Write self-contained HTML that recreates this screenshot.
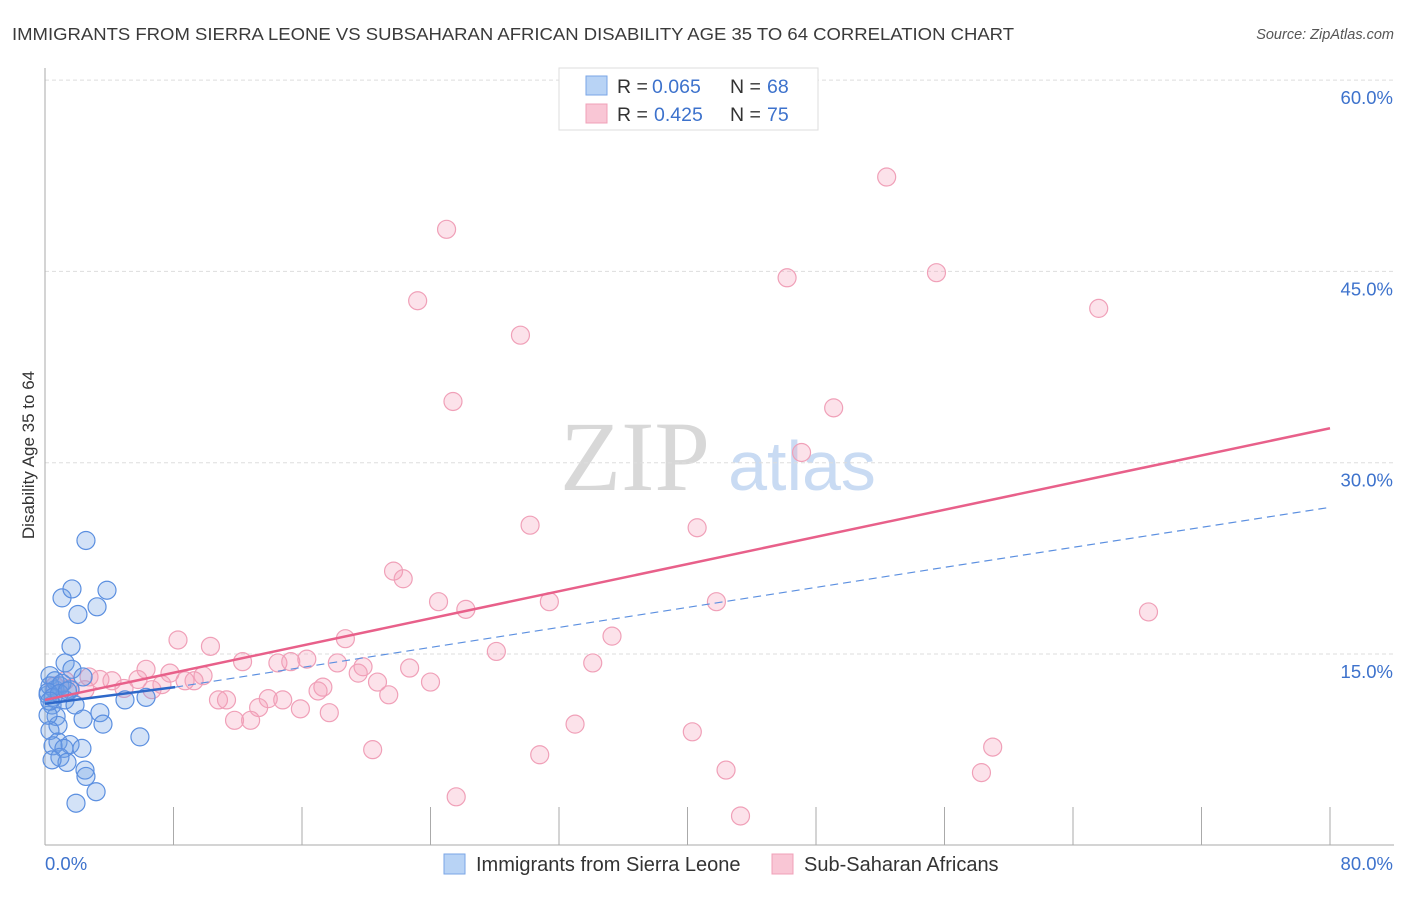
<!DOCTYPE html>
<html><head><meta charset="utf-8"><style>
body{margin:0;background:#fff;width:1406px;height:892px;overflow:hidden;font-family:"Liberation Sans",sans-serif}
</style></head><body>
<svg width="1406" height="892" id="svg" xmlns="http://www.w3.org/2000/svg">
<text x="12" y="40" font-size="17.5" fill="#3a3a3a" textLength="1002" lengthAdjust="spacingAndGlyphs">IMMIGRANTS FROM SIERRA LEONE VS SUBSAHARAN AFRICAN DISABILITY AGE 35 TO 64 CORRELATION CHART</text>
<text x="1394" y="39" font-size="14.5" fill="#555" font-style="italic" text-anchor="end">Source: ZipAtlas.com</text>
<text x="635" y="490" font-size="100" fill="#d8d8d8" font-family="Liberation Serif,serif" text-anchor="middle">ZIP</text>
<text x="802" y="490" font-size="70" fill="#c9dbf3" text-anchor="middle">atlas</text>
<g id="grid"></g><g id="pts"></g><g id="lines"></g>
<text x="34" y="455" font-size="17" fill="#333" text-anchor="middle" transform="rotate(-90 34 455)">Disability Age 35 to 64</text>
<g>
<rect x="559" y="68" width="259" height="62" fill="#fff" stroke="#ddd"/>
<rect x="586" y="76" width="21" height="19" fill="#b8d3f5" stroke="#7aa6e6"/>
<rect x="586" y="104" width="21" height="19" fill="#f9c6d5" stroke="#f0a0b8"/>
<text x="617" y="93" font-size="19.5" fill="#333">R =</text><text x="652" y="93" font-size="19.5" fill="#3d72cc">0.065</text>
<text x="730" y="93" font-size="19.5" fill="#333">N =</text><text x="767" y="93" font-size="19.5" fill="#3d72cc">68</text>
<text x="617" y="121" font-size="19.5" fill="#333">R =</text><text x="654" y="121" font-size="19.5" fill="#3d72cc">0.425</text>
<text x="730" y="121" font-size="19.5" fill="#333">N =</text><text x="767" y="121" font-size="19.5" fill="#3d72cc">75</text>
</g>
<g>
<rect x="444" y="854" width="21" height="20" fill="#b8d3f5" stroke="#7aa6e6"/>
<text x="476" y="871" font-size="20" fill="#333">Immigrants from Sierra Leone</text>
<rect x="772" y="854" width="21" height="20" fill="#f9c6d5" stroke="#f0a0b8"/>
<text x="804" y="871" font-size="20" fill="#333">Sub-Saharan Africans</text>
</g>
</svg>
<script>
const xTicks=[0,8,16,24,32,40,48,56,64,72,80];
const yTicks=[15,30,45,60];
const blueX=[2.55,1.06,1.68,3.86,3.24,2.05,1.62,1.25,1.68,0.31,2.37,0.62,0.93,1.56,0.19,1.25,0.44,1.87,4.98,6.29,3.42,2.37,3.61,0.69,0.81,0.31,5.91,0.81,0.5,1.56,2.3,1.18,0.93,1.37,2.49,2.55,3.18,1.93,0.44,0.19,0.31,0.62,1.06,0.2,0.5,0.9,1.4,0.3];
const blueY=[23.9,19.4,20.1,20.0,18.7,18.1,15.6,14.3,13.8,13.3,13.2,12.2,12.5,12.2,11.8,11.4,11.0,11.0,11.4,11.6,10.4,9.9,9.5,10.1,9.4,9.0,8.5,8.1,7.8,7.9,7.6,7.6,6.9,6.5,5.9,5.4,4.2,3.3,6.7,10.2,12.5,12.9,12.7,12.0,11.6,11.9,12.1,11.3];
const pinkX=[52.4,25.0,55.5,46.2,23.2,65.6,29.6,25.4,49.1,47.1,30.2,40.6,21.7,22.3,24.5,26.2,31.4,41.8,68.7,35.3,8.28,10.3,18.7,28.1,12.3,14.5,15.3,16.3,18.2,19.8,19.5,22.7,34.1,6.29,7.78,9.84,2.74,3.42,4.17,5.79,7.28,8.72,9.28,4.92,6.66,2.49,1.56,17.3,20.7,24.0,17.0,21.4,13.9,14.8,10.8,11.3,13.3,15.9,17.7,11.8,12.8,33.0,40.3,20.4,59.0,30.8,42.4,58.3,25.6,43.3,0.62,1.25];
const pinkY=[52.4,48.3,44.9,44.5,42.7,42.1,40.0,34.8,34.3,30.8,25.1,24.9,21.5,20.9,19.1,18.5,19.1,19.1,18.3,16.4,16.1,15.6,16.2,15.2,14.4,14.3,14.4,14.6,14.3,14.0,13.5,13.9,14.3,13.8,13.5,13.3,13.2,13.0,12.9,13.0,12.6,12.9,12.9,12.3,12.2,12.2,12.3,12.4,12.8,12.8,12.1,11.8,11.5,11.4,11.4,11.4,10.8,10.7,10.4,9.8,9.8,9.5,8.9,7.5,7.7,7.1,5.9,5.7,3.8,2.3,12.5,12.9];
const pinkLine=[0,11.4,80,32.7];
const blueSolid=[0,11.1,8.1,12.4];
const blueDash=[8.1,12.4,80,26.5];
const X=v=>45+v/80*1285, Y=v=>845.3-v/15*191.3;
const NS='http://www.w3.org/2000/svg';
function mk(t,a,p){const e=document.createElementNS(NS,t);for(const k in a)e.setAttribute(k,a[k]);document.getElementById(p).appendChild(e);return e;}
yTicks.forEach(t=>{const l=mk('line',{x1:45,x2:1394,y1:Y(t),y2:Y(t),stroke:'#ddd','stroke-dasharray':'4,3'},'grid');


const tx=mk('text',{x:1393,y:Y(t)+24,'font-size':18.5,fill:'#3d72cc','text-anchor':'end'},'grid');tx.textContent=t.toFixed(1)+'%';

});
const ax=mk('line',{x1:45,x2:1394,y1:845,y2:845,stroke:'#aaa'},'grid');


const ay=mk('line',{x1:45,x2:45,y1:68,y2:845,stroke:'#aaa'},'grid');


xTicks.slice(1).forEach(t=>{const l=mk('line',{x1:X(t),x2:X(t),y1:807,y2:845,stroke:'#aaa'},'grid');

});
[[0,45,'start'],[80,1393,'end']].forEach(([v,x,a])=>{const tx=mk('text',{x:x,y:870,'font-size':18.5,fill:'#3d72cc','text-anchor':a},'grid');tx.textContent=v.toFixed(1)+'%';

});
pinkX.forEach((v,i)=>{const c=mk('circle',{cx:X(v),cy:Y(pinkY[i]),r:9,fill:'rgba(244,160,186,0.3)',stroke:'#f0a0b8','stroke-width':1.2},'pts');

});
blueX.forEach((v,i)=>{const c=mk('circle',{cx:X(v),cy:Y(blueY[i]),r:9,fill:'rgba(110,160,230,0.3)',stroke:'#5b8fe0','stroke-width':1.2},'pts');

});
const l1=mk('line',{x1:X(pinkLine[0]),y1:Y(pinkLine[1]),x2:X(pinkLine[2]),y2:Y(pinkLine[3]),stroke:'#e8608a','stroke-width':2.5},'lines');


const l2=mk('line',{x1:X(blueDash[0]),y1:Y(blueDash[1]),x2:X(blueDash[2]),y2:Y(blueDash[3]),stroke:'#5b8fe0','stroke-width':1.2,'stroke-dasharray':'8,5'},'lines');


const l3=mk('line',{x1:X(blueSolid[0]),y1:Y(blueSolid[1]),x2:X(blueSolid[2]),y2:Y(blueSolid[3]),stroke:'#2e68c9','stroke-width':2.5},'lines');


</script>
</body></html>
